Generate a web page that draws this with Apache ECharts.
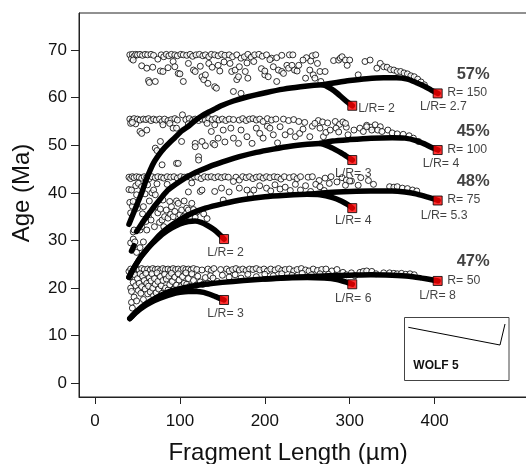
<!DOCTYPE html>
<html><head><meta charset="utf-8">
<script src="https://cdn.jsdelivr.net/npm/echarts@6/dist/echarts.min.js"></script>
<style>html,body{margin:0;padding:0;background:#fff}#c{width:526px;height:464px}</style>
</head><body><div id="c"></div>
<script>
// ---------- DATA ----------
const xTicks = [0, 100, 200, 300, 400];
const yTicks = [0, 10, 20, 30, 40, 50, 60, 70];

// open circles (measured ages vs fragment length)
const band1Circles = [[41,69.0],[43,68.2],[44,69.1],[46,68.7],[48,69.1],[50,69.0],[53,69.1],[56,68.9],[59,69.1],[62,69.0],[66,69.1],[69,68.9],[74,68.1],[78,69.0],[81,68.6],[84,69.1],[87,68.8],[90,69.1],[94,69.0],[97,68.8],[101,69.1],[104,69.0],[108,68.9],[112,69.1],[115,68.7],[119,69.0],[123,69.1],[127,68.8],[130,69.0],[134,68.6],[137,69.1],[141,69.0],[145,68.8],[149,69.1],[153,68.9],[158,69.0],[162,68.6],[167,69.0],[172,68.3],[176,68.6],[180,69.1],[184,68.5],[188,69.0],[193,69.1],[197,68.7],[202,69.0],[208,68.3],[214,68.4],[220,68.9],[229,69.0],[233,69.0],[249,68.4],[256,68.8],[260,69.0],
[45,67.9],[55,66.7],[61,66.2],[63,63.6],[64,63.2],[68,66.4],[71,63.4],[77,65.6],[80,65.5],[86,66.3],[92,67.6],[94,66.5],[98,65.1],[100,65.0],[104,63.4],[110,67.2],[116,65.8],[118,65.5],[124,66.6],[126,64.4],[128,63.8],[130,64.8],[133,63.0],[134,67.2],[138,66.4],[141,62.3],[143,62.0],[145,66.8],[147,65.6],[152,67.5],[159,67.2],[161,65.5],[163,61.3],[165,65.8],[167,63.8],[169,64.4],[170,66.5],[172,60.9],[177,65.5],[179,67.3],[180,64.1],[187,67.6],[196,66.1],[200,64.8],[200,65.6],[204,64.4],[206,68.0],[210,66.5],[214,63.4],[216,65.8],[220,65.5],[222,65.1],[226,66.8],[228,66.2],[232,66.8],[235,65.8],[238,65.6],[240,66.8],[245,67.9],[248,64.1],[253,65.8],[254,67.7],[257,64.8],[259,64.1],[262,67.2],[265,65.5],[266,63.4],[271,65.5],[281,67.8],[287,67.9],[289,68.3],[291,68.6],[295,67.9],[297,66.8],[300,67.9],[310,64.8],[318,67.6],[324,67.9],[332,66.2],[336,67.2],[340,66.5],[344,66.4],[348,65.9],[352,65.8],[356,65.5],[360,65.5],[364,65.2],[368,65.0],[372,64.6],[376,64.4],[380,63.9],[384,63.3],[388,62.7]];

const band2Circles = [[41,55.5],[44,55.2],[46,55.6],[48,54.5],[50,55.5],[53,55.3],[57,55.5],[60,55.4],[63,55.6],[66,55.2],[69,55.5],[72,55.3],[76,55.5],[79,55.0],[82,55.5],[86,55.2],[90,55.4],[94,55.6],[97,55.3],[103,56.4],[107,55.4],[111,55.6],[115,55.3],[118,55.5],[122,55.2],[126,55.5],[130,55.3],[134,55.6],[138,55.4],[142,55.6],[146,55.3],[150,55.5],[154,55.2],[158,55.5],[163,55.4],[170,55.3],[174,55.6],[178,55.2],[182,55.5],[186,55.6],[190,55.3],[194,55.5],[198,55.0],[203,55.6],[208,55.3],[213,55.5],[222,55.5],[228,55.2],[234,55.4],[240,55.0],[247,54.8],[256,54.0],[263,55.2],[268,54.9],[274,54.7],[283,55.0],[288,54.4],[292,54.9],[296,53.8],[320,54.2],[325,53.8],[330,54.3],[336,53.9],
[42,54.6],[44,54.8],[53,52.9],[55,52.5],[61,53.2],[71,49.4],[73,48.9],[77,50.8],[79,45.9],[80,54.3],[88,54.6],[92,53.6],[96,53.6],[96,46.2],[98,46.2],[102,50.8],[110,54.5],[118,50.4],[118,49.7],[122,47.6],[122,46.9],[126,50.8],[130,49.9],[132,54.6],[137,52.9],[139,50.4],[141,54.3],[141,50.1],[145,51.5],[151,53.2],[153,50.7],[160,53.6],[163,51.5],[169,50.4],[172,53.2],[179,51.8],[185,50.4],[190,53.6],[194,52.5],[198,51.5],[203,54.0],[206,53.6],[210,52.2],[215,50.5],[218,53.9],[224,52.2],[230,52.9],[236,51.8],[241,52.5],[245,53.4],[253,51.8],[259,54.6],[265,53.6],[269,51.8],[272,52.7],[277,53.2],[284,53.6],[287,52.8],[295,54.6],[298,52.2],[305,53.2],[312,53.6],[316,52.9],[320,53.9],[326,53.2],[333,53.2],[338,52.9],[345,53.2],[350,52.6],[356,52.4],[363,52.3],[370,52.0],[375,51.5],[381,50.8]];

const band3Circles = [[40,43.3],[42,43.0],[44,43.4],[46,43.2],[49,43.4],[52,43.3],[55,43.1],[58,43.4],[61,43.3],[64,43.0],[67,43.4],[71,43.2],[74,43.4],[78,43.3],[81,43.1],[85,43.4],[89,43.3],[93,43.4],[97,43.1],[101,43.4],[105,43.3],[109,43.4],[113,43.2],[117,43.4],[121,43.3],[125,43.0],[129,43.4],[133,43.3],[137,43.4],[141,43.2],[145,43.4],[149,43.2],[153,43.4],[157,43.3],[166,43.3],[170,42.7],[174,43.4],[178,43.2],[182,43.4],[186,43.0],[190,43.3],[194,43.4],[198,43.1],[202,43.4],[206,43.2],[211,43.4],[215,43.3],[219,42.9],[223,43.4],[229,43.2],[234,43.4],[238,43.0],[242,43.4],[251,43.3],[256,43.4],[264,42.6],[271,43.1],[278,43.4],[291,43.2],[296,42.7],[302,42.5],[313,43.2],[322,42.6],
[40,40.7],[41,38.0],[42,35.8],[42,29.5],[43,40.6],[44,37.2],[45,38.2],[45,31.8],[45,30.3],[46,32.2],[47,29.7],[48,41.5],[49,39.6],[49,27.5],[50,36.8],[51,42.0],[53,32.2],[53,28.5],[55,41.3],[55,32.9],[56,35.6],[57,37.1],[57,29.7],[59,39.8],[60,34.0],[61,32.2],[62,41.7],[63,35.0],[64,38.3],[66,34.3],[67,40.0],[69,40.6],[70,32.9],[71,39.6],[71,37.1],[73,41.9],[74,35.8],[76,33.8],[77,36.6],[79,34.3],[80,38.5],[81,32.9],[82,35.0],[84,36.4],[85,41.8],[86,34.7],[88,38.2],[89,35.5],[90,37.1],[92,35.0],[94,36.1],[96,38.3],[98,37.8],[100,35.4],[102,36.4],[104,35.0],[105,38.3],[108,36.8],[110,36.4],[110,40.2],[112,35.0],[114,37.8],[114,42.1],[116,36.5],[118,34.9],[120,36.0],[124,40.3],[126,40.6],[128,35.6],[132,34.6],[141,40.3],[149,41.0],[151,38.5],[158,40.2],[163,42.4],[170,41.0],[179,40.6],[183,39.6],[187,40.6],[194,41.5],[202,41.0],[207,40.4],[212,41.7],[218,40.8],[224,41.2],[230,40.5],[236,41.8],[242,40.6],[248,41.5],[254,40.3],[260,41.8],[265,41.3],[270,40.5],[276,42.0],[285,42.3],[295,41.6],[300,42.5],[310,41.6],[328,41.8],[347,41.3],[352,41.2],[356,41.3],[362,41.0],[368,40.9],[374,40.6],[379,40.4]];

const band4Circles = [[40,23.5],[42,24.0],[44,23.3],[46,23.9],[49,24.0],[52,23.8],[55,24.1],[58,23.9],[62,24.0],[65,23.8],[68,24.1],[71,23.9],[74,24.0],[77,23.7],[80,24.1],[83,23.9],[86,24.0],[89,23.8],[92,24.1],[95,23.9],[98,24.0],[101,23.7],[104,24.1],[107,23.9],[110,24.0],[113,23.8],[116,24.1],[120,23.9],[126,23.8],[133,24.0],[137,23.7],[140,24.1],[148,23.9],[155,24.0],[158,23.6],[162,23.9],[166,24.1],[170,23.8],[174,24.0],[178,23.7],[182,24.0],[186,23.9],[190,24.1],[194,23.8],[199,24.0],[203,23.6],[207,24.0],[212,23.8],[216,24.1],[220,23.7],[224,23.9],[229,24.0],[234,23.6],[238,23.9],[243,24.1],[248,23.8],[252,23.6],[257,24.0],[262,23.7],[267,23.9],[272,24.0],[279,23.6],[285,23.9],[292,23.3],[296,22.8],[302,23.2],[306,22.6],[312,23.3],[316,23.5],[320,23.6],[326,23.5],[331,23.0],[340,23.2],[347,23.2],[352,23.1],[356,23.0],[361,23.1],[366,22.9],[371,23.0],[376,22.8],
[41,22.3],[42,20.0],[43,19.3],[43,17.0],[44,15.8],[45,21.2],[46,18.1],[47,22.8],[48,20.5],[49,17.3],[50,22.0],[51,19.5],[52,21.0],[53,23.0],[54,18.9],[55,20.3],[56,22.5],[57,17.6],[58,21.6],[59,19.8],[60,23.1],[61,21.0],[62,18.8],[63,20.4],[64,22.2],[65,19.2],[66,21.5],[67,23.0],[68,20.0],[69,18.4],[70,22.0],[71,20.8],[72,19.0],[73,23.2],[74,21.4],[75,19.8],[77,22.4],[78,20.5],[79,18.9],[80,21.6],[82,22.9],[83,20.0],[84,21.9],[86,19.6],[87,22.5],[88,20.7],[90,23.1],[91,21.4],[93,19.8],[94,22.3],[96,20.6],[98,23.0],[99,21.7],[101,20.3],[103,22.4],[105,21.0],[107,23.2],[108,20.8],[110,22.0],[112,20.4],[114,23.0],[116,21.6],[119,20.6],[121,22.5],[124,21.3],[127,20.8],[130,22.2],[133,21.0],[136,22.6],[139,22.1],[144,21.4],[150,22.7],[158,22.3],[165,22.8],[172,22.1],[180,22.9],[190,22.4],[200,22.9],[210,22.6],[220,23.0],[232,22.7],[244,23.1],[255,22.8],[265,23.0],[275,22.9],[283,22.6]];

// model curves (dense black points), one per R and L/R
const curveR150a = [[40,33.4],[45,35.6],[50,37.8],[55,40.0],[60,42.6],[65,44.8],[70,46.6],[76,48.2],[82,49.5],[88,50.6],[94,51.6],[102,53.0],[110,54.0],[118,55.2],[126,56.2],[134,57.0],[142,57.7],[150,58.4],[163,59.3],[180,60.2],[202,61.1],[222,61.8],[242,62.3],[258,62.6],[268,62.7],[275,62.2],[282,61.4],[290,60.2],[297,59.1],[303,58.3]];
const curveR150b = [[268,62.7],[285,63.2],[300,63.6],[320,64.0],[340,64.2],[355,64.2],[368,63.9],[378,63.2],[388,62.4],[396,61.6],[404,60.9]];
const curveR100start = [[43,27.8],[46,28.9]];
const curveR100a = [[49,31.9],[55,33.5],[60,34.8],[65,36.0],[70,37.2],[75,38.3],[80,39.4],[86,40.6],[95,41.8],[105,43.0],[115,44.0],[125,44.8],[140,45.9],[155,46.8],[170,47.6],[190,48.5],[210,49.2],[230,49.8],[250,50.2],[265,50.4],[275,49.8],[283,49.1],[290,48.4],[297,47.6],[303,46.9]];
const curveR100b = [[265,50.4],[280,50.9],[300,51.2],[325,51.5],[350,51.6],[365,51.5],[378,51.0],[388,50.3],[396,49.6],[404,49.0]];
const curveR75a = [[40,22.3],[45,24.0],[50,25.5],[55,26.8],[60,27.9],[65,28.9],[70,29.8],[80,31.4],[90,32.6],[100,33.5],[110,34.0],[118,34.1],[125,33.8],[132,33.2],[140,32.3],[147,31.2],[152,30.3]];
const curveR75b = [[40,22.3],[45,24.0],[50,25.5],[55,26.8],[60,27.9],[70,30.0],[80,31.8],[90,33.2],[100,34.4],[115,35.8],[130,36.8],[150,37.7],[175,38.6],[200,39.2],[225,39.5],[250,39.7],[265,39.6],[280,39.0],[290,38.3],[298,37.5],[303,36.8]];
const curveR75c = [[250,39.7],[275,40.1],[300,40.3],[325,40.4],[350,40.4],[365,40.2],[378,39.8],[390,39.2],[398,38.8],[404,38.4]];
const curveR50a = [[41,13.6],[45,14.3],[50,15.1],[55,15.8],[60,16.4],[70,17.4],[80,18.1],[90,18.7],[100,19.1],[110,19.3],[120,19.3],[128,19.1],[135,18.7],[142,18.2],[148,17.8],[152,17.5]];
const curveR50b = [[41,13.6],[45,14.4],[50,15.3],[60,16.7],[70,17.8],[80,18.7],[90,19.4],[100,19.9],[115,20.4],[130,20.8],[150,21.2],[175,21.6],[200,21.9],[225,22.1],[250,22.2],[270,22.1],[285,21.8],[295,21.3],[303,20.8]];
const curveR50c = [[200,21.9],[225,22.2],[250,22.4],[275,22.6],[300,22.7],[325,22.8],[350,22.7],[370,22.5],[385,22.1],[395,21.8],[404,21.5]];

// red squares: model end points
const squaresX = [303, 403.6, 303, 403.6, 152, 303, 403.6, 152, 303, 403.6];
const squaresY = [58.3, 60.9, 46.9, 49.0, 30.3, 36.8, 38.4, 17.5, 20.8, 21.5];
const lrLabels = ['L/R= 2', 'L/R= 2.7', 'L/R= 3', 'L/R= 4', 'L/R= 2', 'L/R= 4', 'L/R= 5.3', 'L/R= 3', 'L/R= 6', 'L/R= 8'];
const rLabels = ['', 'R= 150', '', 'R= 100', '', '', 'R= 75', '', '', 'R= 50'];
const pctLabels = ['', '57%', '', '45%', '', '', '48%', '', '', '47%'];
const insetTitle = 'WOLF 5';

// ---------- STYLE / LAYOUT ----------
const lrOffsets = [[6,3],[-17.7,13.4],[-17.3,13.3],[-15,14],[-16.7,13.3],[-17.3,12.7],[-17,14.7],[-16.7,14],[-17.3,14],[-18.4,14.7]];
const rOffset = [9.5, -0.8];
const pctOffset = [35.5, -19];
const FONT = '"Liberation Sans", Arial, Helvetica, sans-serif';

const chart = echarts.init(document.getElementById('c'), null, {renderer: 'canvas'});

function circleSeries(d) {
  return {type: 'scatter', data: d, symbol: 'circle', symbolSize: 6,
    itemStyle: {color: '#fff', borderColor: '#000', borderWidth: 1}, silent: true, z: 2};
}
function curveSeries(d) {
  return {type: 'line', data: d, showSymbol: false, smooth: 0.2, silent: true, z: 3,
    lineStyle: {color: '#000', width: 5.5, cap: 'round', join: 'round'}};
}

const squareData = squaresX.map((x, i) => [x, squaresY[i]]);
const lrData = squareData.map((p, i) => ({value: p, label: {show: true, formatter: lrLabels[i], offset: lrOffsets[i]}}));
const rData = squareData.map((p, i) => ({value: p, label: {show: rLabels[i] !== '', formatter: rLabels[i] || ' ', offset: rOffset}}));
const pData = squareData.map((p, i) => ({value: p, label: {show: pctLabels[i] !== '', formatter: pctLabels[i] || ' ', offset: pctOffset}}));

function textSeries(d, extra) {
  return {type: 'scatter', data: d, symbolSize: 1, silent: true, z: 6,
    itemStyle: {color: 'transparent'},
    label: Object.assign({position: 'inside', align: 'left', verticalAlign: 'middle',
      fontFamily: FONT, fontSize: 12.3, color: '#111'}, extra)};
}

const option = {
  animation: false,
  backgroundColor: '#fff',
  grid: {left: 79, top: 13, width: 462, height: 384, containLabel: false, outerBoundsMode: 'none',
    show: true, borderColor: '#222', borderWidth: 1, backgroundColor: 'transparent'},
  xAxis: {
    type: 'value', min: -18.85, max: 525.3,
    name: 'Fragment Length (µm)', nameLocation: 'middle', nameGap: 44,
    nameTextStyle: {fontFamily: FONT, fontSize: 24, color: '#111', padding: [0, 44, 0, 0]},
    axisLine: {show: true, onZero: false, lineStyle: {color: '#222', width: 1}},
    axisTick: {show: true, length: 7, customValues: xTicks, lineStyle: {color: '#222'}},
    axisLabel: {customValues: xTicks, fontFamily: FONT, fontSize: 17, color: '#111', margin: 16},
    splitLine: {show: false}
  },
  yAxis: {
    type: 'value', min: -2.88, max: 77.79,
    name: 'Age (Ma)', nameLocation: 'middle', nameGap: 45, nameRotate: 90,
    nameTextStyle: {fontFamily: FONT, fontSize: 24, color: '#111', padding: [0, 0, 0, 24]},
    axisLine: {show: true, onZero: false, lineStyle: {color: '#222', width: 1}},
    axisTick: {show: true, length: 8, customValues: yTicks, lineStyle: {color: '#222'}},
    axisLabel: {customValues: yTicks, fontFamily: FONT, fontSize: 17, color: '#111', margin: 12},
    splitLine: {show: false}
  },
  series: [
    circleSeries(band1Circles), circleSeries(band2Circles), circleSeries(band3Circles), circleSeries(band4Circles),
    curveSeries(curveR150a), curveSeries(curveR150b), curveSeries(curveR100start), curveSeries(curveR100a), curveSeries(curveR100b),
    curveSeries(curveR75a), curveSeries(curveR75b), curveSeries(curveR75c),
    curveSeries(curveR50a), curveSeries(curveR50b), curveSeries(curveR50c),
    {type: 'scatter', data: squareData, symbol: 'rect', symbolSize: 9, silent: true, z: 5,
      itemStyle: {color: '#ff0000', borderColor: '#000', borderWidth: 1}},
    textSeries(lrData, {}),
    textSeries(rData, {}),
    textSeries(pData, {align: 'center', fontWeight: 'bold', fontSize: 16.5})
  ],
  graphic: [
    {type: 'rect', shape: {x: 404.5, y: 317.5, width: 104.5, height: 63}, style: {fill: '#fff', stroke: '#444', lineWidth: 1}, z: 10},
    {type: 'polyline', shape: {points: [[408.3, 327.3], [500, 345], [505, 324]]}, style: {fill: null, stroke: '#000', lineWidth: 1}, z: 11},
    {type: 'text', x: 413.3, y: 365.7, style: {text: insetTitle, fontFamily: FONT, fontSize: 12, fontWeight: 'bold', fill: '#111', verticalAlign: 'middle'}, z: 11}
  ]
};
chart.setOption(option);
</script>
</body></html>
